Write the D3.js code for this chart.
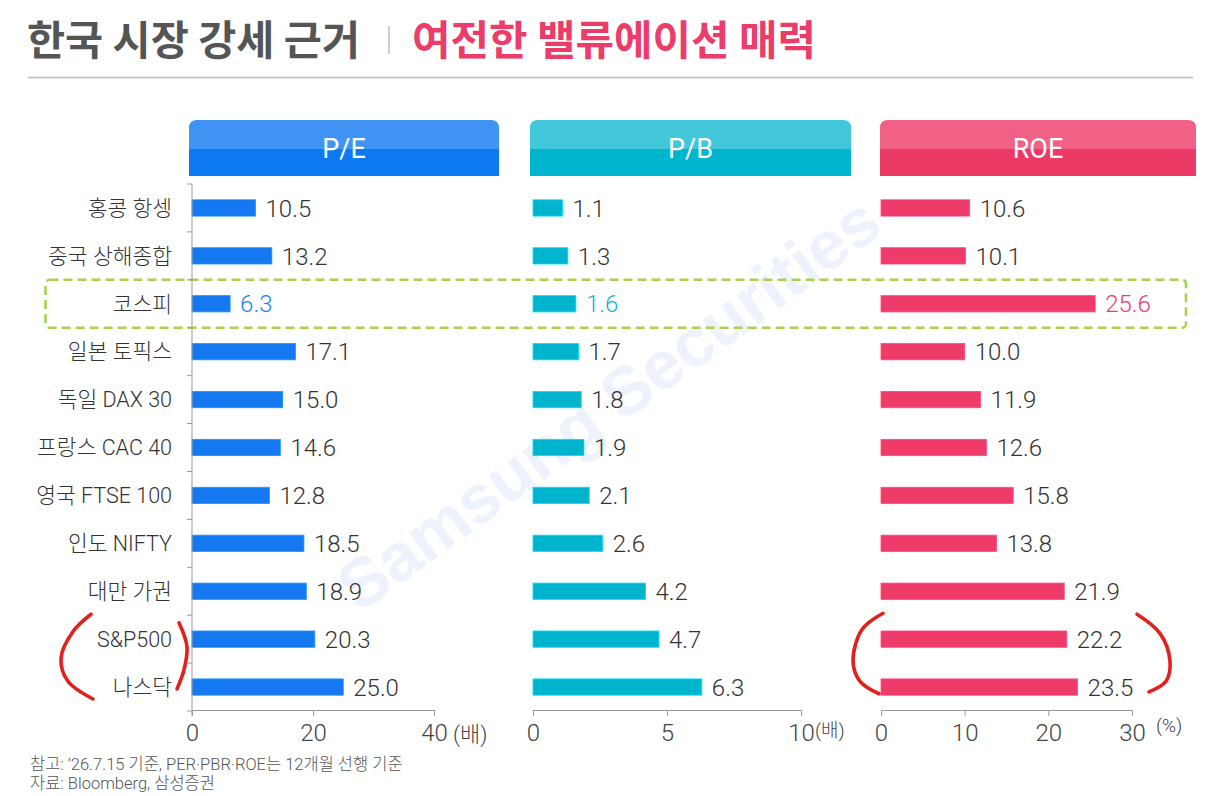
<!DOCTYPE html>
<html><head><meta charset="utf-8">
<script src="https://cdn.jsdelivr.net/npm/d3@7"></script>
<style>
html,body{margin:0;padding:0;background:#fff;}
svg{display:block;}
</style></head>
<body>
<svg id="chart" width="1210" height="796"></svg>
<script>
// ---- data ----
const categories = ["홍콩 항셍","중국 상해종합","코스피","일본 토픽스","독일 DAX 30","프랑스 CAC 40","영국 FTSE 100","인도 NIFTY","대만 가권","S&P500","나스닥"];
const peValues  = [10.5, 13.2, 6.3, 17.1, 15.0, 14.6, 12.8, 18.5, 18.9, 20.3, 25.0];
const pbValues  = [1.1, 1.3, 1.6, 1.7, 1.8, 1.9, 2.1, 2.6, 4.2, 4.7, 6.3];
const roeValues = [10.6, 10.1, 25.6, 10.0, 11.9, 12.6, 15.8, 13.8, 21.9, 22.2, 23.5];
const panelTitles = ["P/E", "P/B", "ROE"];
const peTicks = [0, 20, 40];
const pbTicks = [0, 5, 10];
const roeTicks = [0, 10, 20, 30];
const unitLabels = ["(배)", "(배)", "(%)"];
const highlight = "코스피";
const circled = ["S&P500", "나스닥"];
const titleMain = "한국 시장 강세 근거";
const titleSub = "여전한 밸류에이션 매력";
const notes = ["참고: ’26.7.15 기준, PER·PBR·ROE는 12개월 선행 기준", "자료: Bloomberg, 삼성증권"];
const watermark = "Samsung Securities";

// ---- setup ----
const svg = d3.select("#chart");
const numFont = "Roboto, 'Noto Sans CJK KR', sans-serif";
const korFont = "Roboto, 'Noto Sans CJK KR', sans-serif";

// title
svg.append("text").attr("x", 27).attr("y", 55)
  .attr("font-family", "'Noto Sans CJK KR', sans-serif").attr("font-weight", 700)
  .attr("font-size", 41).attr("fill", "#555")
  .attr("textLength", 333).attr("lengthAdjust", "spacingAndGlyphs").text(titleMain);
svg.append("line").attr("x1", 389).attr("x2", 389).attr("y1", 26).attr("y2", 54)
  .attr("stroke", "#bbb").attr("stroke-width", 1.5);
svg.append("text").attr("x", 412).attr("y", 55)
  .attr("font-family", "'Noto Sans CJK KR', sans-serif").attr("font-weight", 700)
  .attr("font-size", 41).attr("fill", "#ec3c6a")
  .attr("textLength", 404).attr("lengthAdjust", "spacingAndGlyphs").text(titleSub);
svg.append("line").attr("x1", 28).attr("x2", 1193).attr("y1", 77.5).attr("y2", 77.5)
  .attr("stroke", "#bcbcbc").attr("stroke-width", 1.5);

// watermark
svg.append("text").attr("transform", "translate(612,408) rotate(-36)")
  .attr("text-anchor", "middle").attr("dominant-baseline", "middle")
  .attr("font-family", "'Liberation Sans', Arial, sans-serif").attr("font-weight", 700)
  .attr("font-size", 68).attr("fill", "#dfe9fb").attr("opacity", 0.55).text(watermark);

// row scales
const yRow = d3.scaleBand().domain(categories).range([184, 711]).padding(0);
const yBar = d3.scaleBand().domain(categories).range([184, 711]).paddingInner(0.66).paddingOuter(0.33);
const step = yRow.step();

// panels
const panels = [
  {title: panelTitles[0], values: peValues, ticks: peTicks, unit: unitLabels[0],
   x: d3.scaleLinear().domain([0, 40]).range([192, 434]),
   hdr: [189, 499], top: "#3f94f4", bot: "#0c78f2", bar: "#1479f1", hl: "#1f80f0"},
  {title: panelTitles[1], values: pbValues, ticks: pbTicks, unit: unitLabels[1],
   x: d3.scaleLinear().domain([0, 10]).range([533, 801]),
   hdr: [530, 851], top: "#42c6da", bot: "#00b5ce", bar: "#00b4ce", hl: "#12b5d0"},
  {title: panelTitles[2], values: roeValues, ticks: roeTicks, unit: unitLabels[2],
   x: d3.scaleLinear().domain([0, 30]).range([881, 1132]),
   hdr: [880, 1196], top: "#f06185", bot: "#ec3a66", bar: "#ee3b69", hl: "#ec3c6a"}
];

// highlight box (behind bars)
svg.append("rect")
  .attr("x", 45.5).attr("y", yRow(highlight))
  .attr("width", 1186 - 45.5).attr("height", step)
  .attr("rx", 4).attr("fill", "none")
  .attr("stroke", "#a9d34e").attr("stroke-width", 2.6).attr("stroke-dasharray", "9,5");

panels.forEach((p, i) => {
  const g = svg.append("g");
  const [hx0, hx1] = p.hdr;
  const hy0 = 120, hy1 = 176, hm = 149, r = 8;
  // header: top part with rounded corners
  g.append("path")
    .attr("d", `M${hx0},${hm} L${hx0},${hy0 + r} Q${hx0},${hy0} ${hx0 + r},${hy0} L${hx1 - r},${hy0} Q${hx1},${hy0} ${hx1},${hy0 + r} L${hx1},${hm} Z`)
    .attr("fill", p.top);
  g.append("rect").attr("x", hx0).attr("y", hm).attr("width", hx1 - hx0).attr("height", hy1 - hm).attr("fill", p.bot);
  g.append("text").attr("x", (hx0 + hx1) / 2).attr("y", 158)
    .attr("text-anchor", "middle").attr("font-family", numFont).attr("font-weight", 400)
    .attr("font-size", 27).attr("fill", "#fff").text(p.title);

  // bars
  const rows = categories.map((c, j) => ({c, v: p.values[j]}));
  g.selectAll("rect.bar").data(rows).enter().append("rect")
    .attr("class", "bar")
    .attr("x", p.x(0)).attr("y", d => yBar(d.c))
    .attr("width", d => p.x(d.v) - p.x(0)).attr("height", yBar.bandwidth())
    .attr("fill", p.bar).attr("stroke", d3.color(p.bar).brighter(0.6)).attr("stroke-width", 0.8);

  g.selectAll("text.val").data(rows).enter().append("text")
    .attr("class", "val")
    .attr("x", d => p.x(d.v) + 10).attr("y", d => yRow(d.c) + step / 2)
    .attr("dy", "0.36em")
    .attr("font-family", numFont).attr("font-weight", 300).attr("font-size", 24)
    .attr("fill", d => d.c === highlight ? p.hl : "#333")
    .text(d => d.v.toFixed(1));

  // x axis
  const ax = d3.axisBottom(p.x).tickValues(p.ticks).tickSize(6).tickSizeOuter(6).tickPadding(8)
    .tickFormat(d3.format("d"));
  const axG = g.append("g").attr("transform", "translate(0,710)").call(ax);
  axG.select(".domain").attr("stroke", "#9a9a9a");
  axG.selectAll(".tick line").attr("stroke", "#9a9a9a");
  axG.selectAll(".tick text").attr("font-family", numFont).attr("font-weight", 300)
    .attr("font-size", 24).attr("fill", "#444");
  // unit label
  const last = p.ticks[p.ticks.length - 1];
  const ux = i === 0 ? p.x(last) + 19 : (i === 1 ? p.x(last) + 14 : p.x(last) + 24);
  const uy = i === 0 ? 742 : (i === 1 ? 737 : 732);
  const us = i === 0 ? 22 : 19;
  g.append("text").attr("x", ux).attr("y", uy)
    .attr("font-family", korFont).attr("font-weight", 300).attr("font-size", us)
    .attr("fill", "#444").text(p.unit);
});

// y axis (P/E panel only)
const x0 = panels[0].x(0);
const yax = svg.append("g");
yax.append("line").attr("x1", x0).attr("x2", x0).attr("y1", 184).attr("y2", 716)
  .attr("stroke", "#9a9a9a");
const bounds = categories.map(c => yRow(c)).concat([yRow(categories[categories.length - 1]) + step]);
yax.selectAll("line.yt").data(bounds).enter().append("line")
  .attr("x1", x0 - 5).attr("x2", x0).attr("y1", d => d).attr("y2", d => d)
  .attr("stroke", "#9a9a9a");
yax.selectAll("text.cat").data(categories).enter().append("text")
  .attr("x", 172).attr("y", d => yRow(d) + step / 2).attr("dy", "0.36em")
  .attr("text-anchor", "end").attr("font-family", korFont).attr("font-weight", 300)
  .attr("font-size", 21.5).attr("fill", "#333").text(d => d);

// hand-drawn red parentheses around circled rows
const cTop = yRow(circled[0]);
const cBot = yRow(circled[circled.length - 1]) + step;
const H = cBot - cTop;
const pt = (x, f) => [x, cTop + f * H];
const curve = d3.line().curve(d3.curveCatmullRom.alpha(0.5));
const xp = panels[0].x, xr = panels[2].x;
const arcs = [
  [pt(xp(0) - 101, -0.01), pt(xp(0) - 119, 0.17), pt(xp(0) - 131, 0.45), pt(xp(0) - 124, 0.69), pt(xp(0) - 99, 0.875)],
  [pt(xp(0) - 13, 0.08), pt(xp(0) - 5, 0.33), pt(xp(0) - 8, 0.57), pt(xp(0) - 15, 0.77)],
  [pt(xr(0) + 2, -0.02), pt(xr(0) - 19, 0.15), pt(xr(0) - 28, 0.48), pt(xr(0) - 21, 0.69), pt(xr(0) - 2, 0.82)],
  [pt(xr(30) + 5, -0.01), pt(xr(30) + 28, 0.19), pt(xr(30) + 38, 0.48), pt(xr(30) + 34, 0.69), pt(xr(30) + 17, 0.80)]
];
svg.selectAll("path.paren").data(arcs).enter().append("path")
  .attr("class", "paren").attr("d", d => curve(d))
  .attr("fill", "none").attr("stroke", "#e2211c").attr("stroke-width", 3.6)
  .attr("stroke-linecap", "round");

// notes
svg.selectAll("text.note").data(notes).enter().append("text")
  .attr("x", 30).attr("y", (d, i) => 770 + i * 19)
  .attr("font-family", korFont).attr("font-weight", 300).attr("font-size", 16.5)
  .attr("fill", "#555").text(d => d);
</script>
</body></html>
